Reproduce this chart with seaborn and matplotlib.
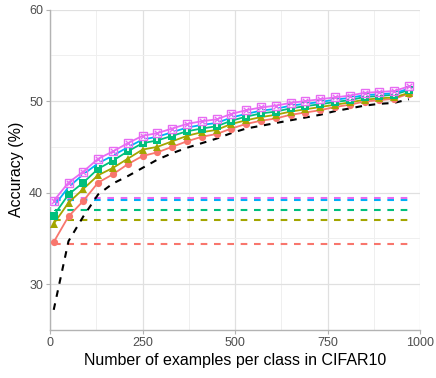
import numpy as np
import pandas as pd
import matplotlib
matplotlib.use("Agg")
import matplotlib.pyplot as plt
import seaborn as sns

# ---- data ----
n_examples = [10, 50, 90, 130, 170, 210, 250, 290, 330, 370, 410, 450, 490,
              530, 570, 610, 650, 690, 730, 770, 810, 850, 890, 930, 970]

acc_red = [34.6, 37.4, 39.1, 41.1, 42.0, 43.1, 44.0, 44.4, 45.0, 45.6, 46.1, 46.4, 47.0,
           47.5, 47.85, 48.1, 48.5, 48.75, 49.0, 49.35, 49.6, 49.95, 50.1, 50.25, 50.8]
acc_olive = [36.6, 38.9, 40.4, 41.9, 42.7, 43.7, 44.7, 45.0, 45.6, 46.2, 46.6, 46.85, 47.5,
             47.9, 48.25, 48.5, 48.85, 49.1, 49.35, 49.6, 49.85, 50.15, 50.3, 50.4, 50.9]
acc_green = [37.5, 39.8, 41.1, 42.6, 43.5, 44.5, 45.4, 45.7, 46.2, 46.7, 47.0, 47.25, 47.85,
             48.3, 48.65, 48.85, 49.2, 49.45, 49.65, 49.9, 50.1, 50.45, 50.55, 50.7, 51.2]
acc_blue = [38.5, 40.6, 42.0, 43.2, 44.05, 44.95, 45.8, 46.1, 46.6, 47.1, 47.4, 47.6, 48.2,
            48.6, 48.95, 49.15, 49.5, 49.7, 49.9, 50.15, 50.35, 50.65, 50.75, 50.85, 51.35]
acc_pink = [39.1, 41.1, 42.3, 43.7, 44.5, 45.4, 46.2, 46.5, 47.0, 47.5, 47.8, 48.0, 48.6,
            49.0, 49.3, 49.5, 49.8, 50.0, 50.2, 50.4, 50.6, 50.9, 51.0, 51.1, 51.6]
acc_baseline = [27.2, 34.7, 37.4, 39.8, 41.0, 41.8, 42.7, 43.6, 44.3, 44.9, 45.4, 45.9, 46.5,
                47.0, 47.3, 47.6, 47.9, 48.2, 48.5, 48.9, 49.2, 49.5, 49.7, 49.8, 50.2]

# horizontal reference levels (dashed), one per series
ref_levels = {"red": 34.4, "olive": 37.05, "green": 38.1, "blue": 39.2, "pink": 39.45}

series_names = ["red", "olive", "green", "blue", "pink"]
series_values = [acc_red, acc_olive, acc_green, acc_blue, acc_pink]
palette = {"red": "#F8766D", "olive": "#A3A500", "green": "#00BF7D",
           "blue": "#00B0F6", "pink": "#E76BF3"}
markers = {"red": "o", "olive": "^", "green": "s", "blue": "+", "pink": "s"}

x_ticks = [0, 250, 500, 750, 1000]
y_ticks = [30, 40, 50, 60]

# ---- plot ----
sns.set_theme(style="white")
plt.rcParams["font.family"] = ["Liberation Sans", "DejaVu Sans"]

fig = plt.figure(figsize=(4.36, 3.78), dpi=100)
ax = fig.add_axes([50 / 436, 1 - 330 / 378, 370 / 436, 320.5 / 378])

# horizontal dashed reference lines
for name in series_names:
    dfh = pd.DataFrame({"n": [n_examples[0], n_examples[-1]],
                        "acc": [ref_levels[name]] * 2})
    sns.lineplot(data=dfh, x="n", y="acc", ax=ax, color=palette[name],
                 linewidth=1.5, linestyle=(0, (3.2, 3.2)), zorder=2)

# baseline black dashed curve
dfb = pd.DataFrame({"n": n_examples, "acc": acc_baseline})
sns.lineplot(data=dfb, x="n", y="acc", ax=ax, color="black", linewidth=1.5,
             linestyle=(0, (3.2, 3.2)), zorder=3)

# series with markers
for name, vals in zip(series_names, series_values):
    df = pd.DataFrame({"n": n_examples, "acc": vals})
    kw = dict(color=palette[name], linewidth=1.3, zorder=4)
    if name == "pink":
        sns.lineplot(data=df, x="n", y="acc", ax=ax, marker="s", markersize=5.2,
                     markerfacecolor="none", markeredgecolor=palette[name],
                     markeredgewidth=1.0, **kw)
        sns.scatterplot(data=df, x="n", y="acc", ax=ax, marker="x", s=14,
                        color=palette[name], linewidth=1.0, zorder=5)
    elif name == "blue":
        sns.lineplot(data=df, x="n", y="acc", ax=ax, marker="+", markersize=6,
                     markeredgewidth=1.3, **kw)
    else:
        ms = 5.2 if name != "olive" else 5.8
        sns.lineplot(data=df, x="n", y="acc", ax=ax, marker=markers[name],
                     markersize=ms, markeredgewidth=0, **kw)

ax.set_xlim(0, 1000)
ax.set_ylim(25, 60)
ax.set_xticks(x_ticks)
ax.set_yticks(y_ticks)
ax.set_xticks([125, 375, 625, 875], minor=True)
ax.set_yticks([35, 45, 55], minor=True)
ax.grid(True, which="major", color="#E0E0E0", linewidth=0.9)
ax.grid(True, which="minor", color="#EFEFEF", linewidth=0.7)
ax.set_axisbelow(True)

for s in ["top", "right"]:
    ax.spines[s].set_visible(False)
for s in ["left", "bottom"]:
    ax.spines[s].set_color("#B3B3B3")
    ax.spines[s].set_linewidth(1.0)

ax.tick_params(axis="both", which="major", length=3, width=0.8, color="#B3B3B3",
               labelsize=9, labelcolor="#4D4D4D", pad=2, bottom=True, left=True)
ax.tick_params(axis="both", which="minor", length=0)

ax.set_xlabel("Number of examples per class in CIFAR10", fontsize=11.5,
              color="black", labelpad=3)
ax.set_ylabel("Accuracy (%)", fontsize=11.5, color="black", labelpad=4)

fig.savefig("out.png", dpi=100)
